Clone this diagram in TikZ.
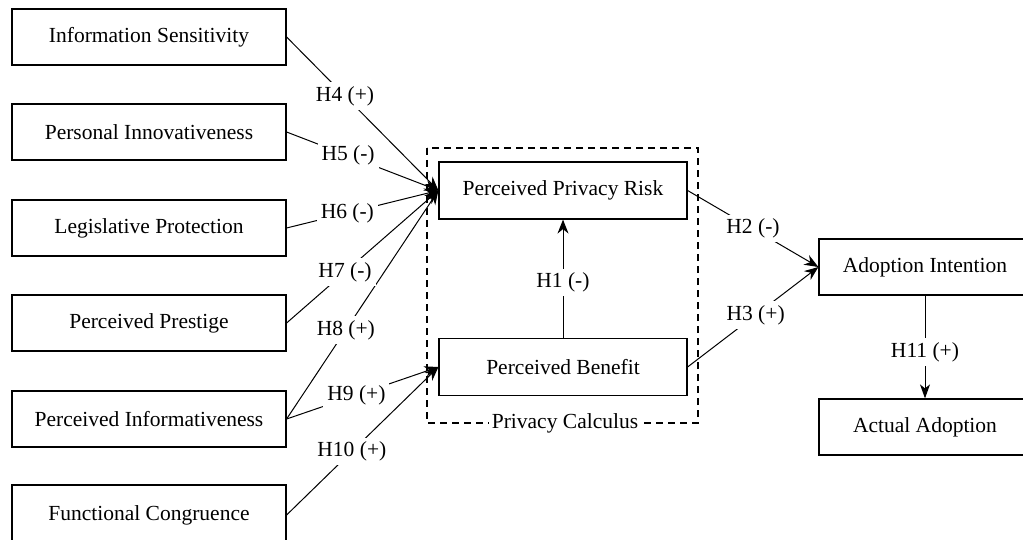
\documentclass[tikz,border=0pt]{standalone}
\usepackage{fontspec}
\setmainfont{Liberation Serif}
\usetikzlibrary{arrows.meta}
\begin{document}
\begin{tikzpicture}[x=1pt,y=-1pt,
  txt/.style={font=\fontsize{21.5}{25}\selectfont},
  box/.style={txt,draw,line width=1.2pt,minimum height=56pt,inner sep=0pt},
  leftbox/.style={box,minimum width=274pt},
  midbox/.style={box,minimum width=248pt,minimum height=57pt},
  rightbox/.style={box,minimum width=212pt},
  lbl/.style={txt,fill=white,inner sep=4pt},
  link/.style={line width=1pt},
  arr/.style={link,-{Stealth[length=14pt,width=11pt]}},
  frame/.style={line width=1.3pt,dash pattern=on 7pt off 5pt}]
\useasboundingbox (0,0) rectangle (1023,540);
\clip (0,0) rectangle (1023,540);

% antecedents
\node[leftbox] (is)  at (149,37)  {Information Sensitivity};
\node[leftbox] (pi)  at (149,132) {Personal Innovativeness};
\node[leftbox] (lp)  at (149,228) {Legislative Protection};
\node[leftbox] (pp)  at (149,323) {Perceived Prestige};
\node[leftbox] (pin) at (149,419) {Perceived Informativeness};
\node[leftbox,minimum height=60pt] (fc) at (149,515) {Functional Congruence};

% privacy calculus
\draw[frame] (427,148) rectangle (698,423);
\node[midbox] (ppr) at (563,190.5) {Perceived Privacy Risk};
\node[midbox] (pb)  at (563,367)   {Perceived Benefit};

% outcomes
\node[rightbox] (ai) at (925,267) {Adoption Intention};
\node[rightbox] (aa) at (925,427) {Actual Adoption};

% hypothesised paths
\draw[arr] (is.east)  -- coordinate[pos=0.385] (h4) (ppr.west);
\draw[arr] (pi.east)  -- coordinate[pos=0.405] (h5) (ppr.west);
\draw[arr] (lp.east)  -- coordinate[pos=0.40]  (h6) (ppr.west);
\draw[arr] (pp.east)  -- coordinate[pos=0.385] (h7) (ppr.west);
\draw[arr] (pin.east) -- coordinate[pos=0.39]  (h8) (ppr.west);
\draw[arr] (pin.east) -- coordinate[pos=0.46]  (h9) (pb.west);
\draw[arr] (fc.east)  -- coordinate[pos=0.43]  (h10) (pb.west);
\draw[arr] (pb.north) -- coordinate[pos=0.47]  (h1) (ppr.south);
\draw[arr] (ppr.east) -- coordinate[pos=0.5]   (h2) (ai.west);
\draw[arr] (pb.east)  -- coordinate[pos=0.52]  (h3) (ai.west);
\draw[link,-{Stealth[length=14pt,width=10pt,inset=4pt]}] (ai.south) -- coordinate[pos=0.55] (h11) (aa.north);

% path labels
\node[lbl] at (h4)  {H4 (+)};
\node[lbl] at (h5)  {H5 (-)};
\node[lbl] at (h6)  {H6 (-)};
\node[lbl] at (h7)  {H7 (-)};
\node[lbl] at (h8)  {H8 (+)};
\node[lbl] at (h9)  {H9 (+)};
\node[lbl] at (h10) {H10 (+)};
\node[lbl] at (h1)  {H1 (-)};
\node[lbl] at (h2)  {H2 (-)};
\node[lbl] at (h3)  {H3 (+)};
\node[lbl] at (h11) {H11 (+)};
\node[lbl,inner sep=3pt] (pc) at (565,423) {Privacy Calculus};
\end{tikzpicture}
\end{document}
